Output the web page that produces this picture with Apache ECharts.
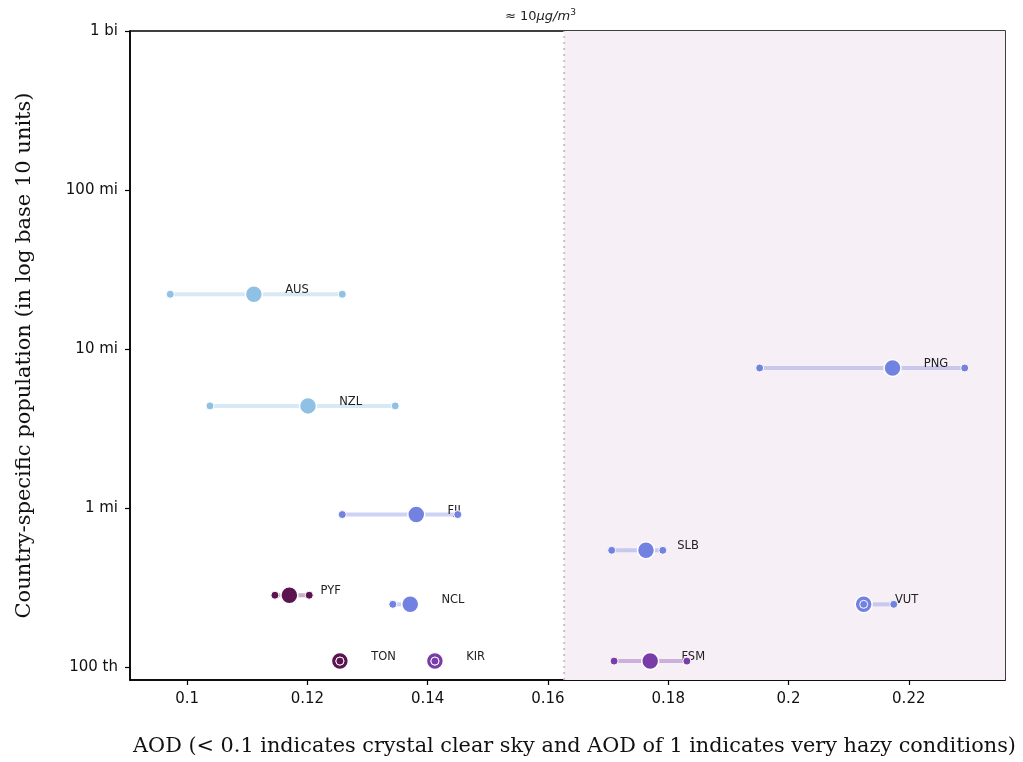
<!DOCTYPE html>
<html>
<head>
<meta charset="utf-8">
<script src="https://cdn.jsdelivr.net/npm/echarts@6/dist/echarts.min.js"></script>
<style>
  html, body { margin: 0; padding: 0; background: #fff; }
  #chart { width: 1023px; height: 762px; }
</style>
</head>
<body>
<div id="chart"></div>
<script>
// country codes, population and AOD range (lower / mean / upper)
var countries = ['AUS', 'NZL', 'PNG', 'FJI', 'SLB', 'PYF', 'NCL', 'VUT', 'TON', 'KIR', 'FSM'];
var population = [22100000, 4390000, 7600000, 910000, 542000, 283000, 248000, 248000, 109000, 109000, 109000];
var aodLow  = [0.0972, 0.1038, 0.1952, 0.1258, 0.1706, 0.1146, 0.1342, 0.2125, 0.1254, 0.1412, 0.1710];
var aodMean = [0.1111, 0.1201, 0.2173, 0.1381, 0.1763, 0.1170, 0.1371, 0.2125, 0.1254, 0.1412, 0.1770];
var aodHigh = [0.1258, 0.1346, 0.2293, 0.1450, 0.1791, 0.1203, null,   0.2175, 0.1254, 0.1412, 0.1831];
var colorGroup = [0, 0, 1, 1, 1, 3, 1, 1, 3, 2, 2];

var pm25Threshold = 0.1627;   // ≈ 10 µg/m3
var xTicks = [0.1, 0.12, 0.14, 0.16, 0.18, 0.2, 0.22];
var yTicks = [1e5, 1e6, 1e7, 1e8, 1e9];
var yTickLabels = ['100 th', '1 mi', '10 mi', '100 mi', '1 bi'];

var yMin = 82900, yMax = 1e9;
var palette = ['#8ec1e4', '#7282e0', '#7a3da8', '#5c1451'];

var chart = echarts.init(document.getElementById('chart'), null, {renderer: 'canvas'});

var series = [];

// shaded region
series.push({
    type: 'line',
    data: [],
    z: 1,
    silent: true,
    markArea: {
        silent: true,
        itemStyle: {color: '#f6eff6'},
        data: [[{xAxis: pm25Threshold}, {xAxis: 'max'}]]
    }
});
// threshold line
series.push({
    type: 'line',
    z: 1,
    silent: true,
    symbol: 'none',
    data: [[pm25Threshold, yMin], [pm25Threshold, yMax]],
    lineStyle: {color: '#cbc0cb', type: [2, 4], width: 2}
});

// range lines
countries.forEach(function (c, i) {
    var lo = Math.min(aodLow[i], aodMean[i]);
    var hi = aodHigh[i] == null ? aodMean[i] : Math.max(aodHigh[i], aodMean[i]);
    series.push({
        type: 'line',
        z: 2,
        silent: true,
        showSymbol: false,
        symbol: 'none',
        data: [[lo, population[i]], [hi, population[i]]],
        lineStyle: {color: palette[colorGroup[i]], opacity: 0.35, width: 4}
    });
});

// mean points
series.push({
    type: 'scatter',
    z: 3,
    symbolSize: 17,
    data: countries.map(function (c, i) { return [aodMean[i], population[i], colorGroup[i]]; }),
    itemStyle: {
        color: function (p) { return palette[p.data[2]]; },
        borderColor: '#fff',
        borderWidth: 1.5,
        opacity: 1
    },
    label: {
        show: true,
        position: 'right',
        distance: 22,
        offset: [0, -4],
        formatter: function (p) { return countries[p.dataIndex]; },
        fontFamily: 'DejaVu Sans',
        fontSize: 11.5,
        color: '#222'
    }
});

// lower / upper points
var ends = [];
countries.forEach(function (c, i) {
    ends.push([aodLow[i], population[i], colorGroup[i]]);
    if (aodHigh[i] != null) ends.push([aodHigh[i], population[i], colorGroup[i]]);
});
series.push({
    type: 'scatter',
    z: 4,
    symbolSize: 8,
    data: ends,
    itemStyle: {
        color: function (p) { return palette[p.data[2]]; },
        borderColor: '#fff',
        borderWidth: 1,
        opacity: 1
    }
});

chart.setOption({
    animation: false,
    textStyle: {fontFamily: 'DejaVu Sans'},
    grid: {left: 130, right: 18, top: 31, bottom: 80, show: true, borderColor: '#000', borderWidth: 1.5},
    graphic: [{
        type: 'text',
        left: 505,
        top: 8,
        style: {
            text: '{a|≈ 10}{b|μg/m}{c|3}',
            rich: {
                a: {fontFamily: 'DejaVu Sans', fontSize: 13, fill: '#222'},
                b: {fontFamily: 'DejaVu Sans', fontStyle: 'italic', fontSize: 13, fill: '#222'},
                c: {fontFamily: 'DejaVu Sans', fontSize: 9, fill: '#222', padding: [0, 0, 8, 0]}
            }
        }
    }],
    xAxis: {
        type: 'value',
        min: 0.0905,
        max: 0.236,
        splitLine: {show: false},
        axisLine: {show: true, onZero: false, lineStyle: {color: '#000', width: 1.5}},
        axisTick: {show: true, customValues: xTicks, length: 5, lineStyle: {color: '#000', width: 1.2}},
        axisLabel: {
            customValues: xTicks,
            margin: 12,
            fontSize: 15,
            color: '#111',
            formatter: function (v) { return String(+(+v).toFixed(2)); }
        },
        name: 'AOD (< 0.1 indicates crystal clear sky and AOD of 1 indicates very hazy conditions)',
        nameLocation: 'middle',
        nameGap: 56,
        nameTextStyle: {fontFamily: 'DejaVu Serif', fontSize: 20.8, color: '#111', padding: [0, 0, 0, 14]}
    },
    yAxis: {
        type: 'log',
        logBase: 10,
        min: yMin,
        max: yMax,
        splitLine: {show: false},
        axisLine: {show: true, lineStyle: {color: '#000', width: 1.5}},
        axisTick: {show: true, customValues: yTicks, length: 5, lineStyle: {color: '#000', width: 1.2}},
        axisLabel: {
            customValues: yTicks,
            margin: 12,
            fontSize: 15,
            color: '#111',
            formatter: function (v) {
                var k = yTicks.findIndex(function (t) { return Math.abs(Math.log10(t) - Math.log10(v)) < 1e-6; });
                return k >= 0 ? yTickLabels[k] : '';
            }
        },
        name: 'Country-specific population (in log base 10 units)',
        nameLocation: 'middle',
        nameGap: 95,
        nameRotate: 90,
        nameTextStyle: {fontFamily: 'DejaVu Serif', fontSize: 21, color: '#111'}
    },
    series: series
});
</script>
</body>
</html>
